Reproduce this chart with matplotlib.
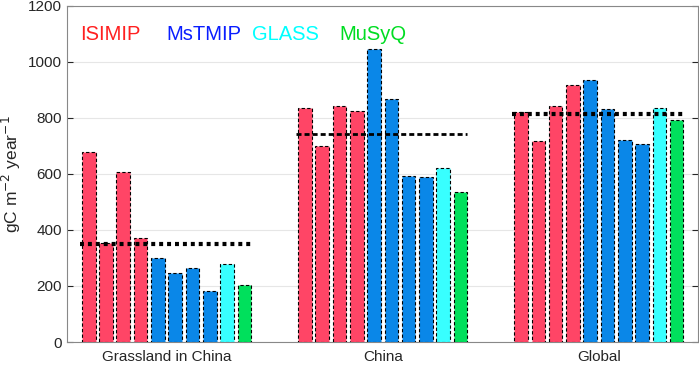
import numpy as np
import matplotlib.pyplot as plt

groups = ['Grassland in China', 'China', 'Global']
sources = ['ISIMIP', 'MsTMIP', 'GLASS', 'MuSyQ']
# model of each bar within a group
bar_source = ['ISIMIP'] * 4 + ['MsTMIP'] * 4 + ['GLASS', 'MuSyQ']

grassland = [677, 355, 606, 371, 301, 248, 265, 181, 279, 204]
china = [834, 701, 844, 826, 1045, 868, 594, 590, 621, 535]
world = [820, 719, 844, 918, 936, 830, 721, 707, 837, 793]
means = [349, 742, 813]

colors = {'ISIMIP': '#FF4566', 'MsTMIP': '#0A87E8', 'GLASS': '#38FFFF', 'MuSyQ': '#00E05C'}
text_colors = {'ISIMIP': '#FF2020', 'MsTMIP': '#0A1EFF', 'GLASS': '#00FFFF', 'MuSyQ': '#00DD22'}

plt.rcParams['font.family'] = ['Arial', 'Liberation Sans', 'DejaVu Sans']

fig = plt.figure(figsize=(6.99, 3.65), dpi=100)
ax = fig.add_axes([0.096, 0.063, 0.903, 0.921])

pitch = 0.080
width = 0.063
data = [grassland, china, world]
for g, vals in enumerate(data):
    center = g + 1
    for i, v in enumerate(vals):
        x = center + (i - 4.5) * pitch
        ax.bar(x, v, width=width, color=colors[bar_source[i]], edgecolor='black',
               linestyle=(0, (3, 2)), linewidth=0.8, zorder=3)
    x0 = center - 4.5 * pitch - width / 2 - 0.01
    x1 = center + 4.5 * pitch + width / 2
    if g == 1:
        ax.plot([x0, x1], [means[g]] * 2, color='black', linestyle=(0, (1.8, 1.1)),
                linewidth=2.0, zorder=4)
    else:
        ax.plot([x0, x1], [means[g]] * 2, color='black', linestyle=(0, (0.95, 0.95)),
                linewidth=3.0, zorder=4)

ax.set_xlim(0.54, 3.46)
ax.set_ylim(0, 1200)
ax.set_yticks(np.arange(0, 1201, 200))
ax.set_xticks([1, 2, 3])
ax.set_xticklabels(groups)
ax.grid(axis='y', color='#e6e6e6', linewidth=0.8, zorder=0)
ax.tick_params(direction='in', top=True, right=True, labelsize=11, colors='#262626',
               length=4, width=0.8)
ax.tick_params(axis='x', length=0)
ax.tick_params(axis='x', pad=6)
for s in ax.spines.values():
    s.set_color('#888888')
    s.set_linewidth(0.8)
ax.set_ylabel('gC m$^{-2}$ year$^{-1}$', fontsize=12.5, color='#262626')

label_x = [80, 166, 252, 339]
for name, px in zip(sources, label_x):
    ax.text(px / 699, 1 - 35 / 365, name, transform=fig.transFigure, color=text_colors[name],
            fontsize=14.5, va='center', ha='left')

fig.savefig('out.png', dpi=100)
